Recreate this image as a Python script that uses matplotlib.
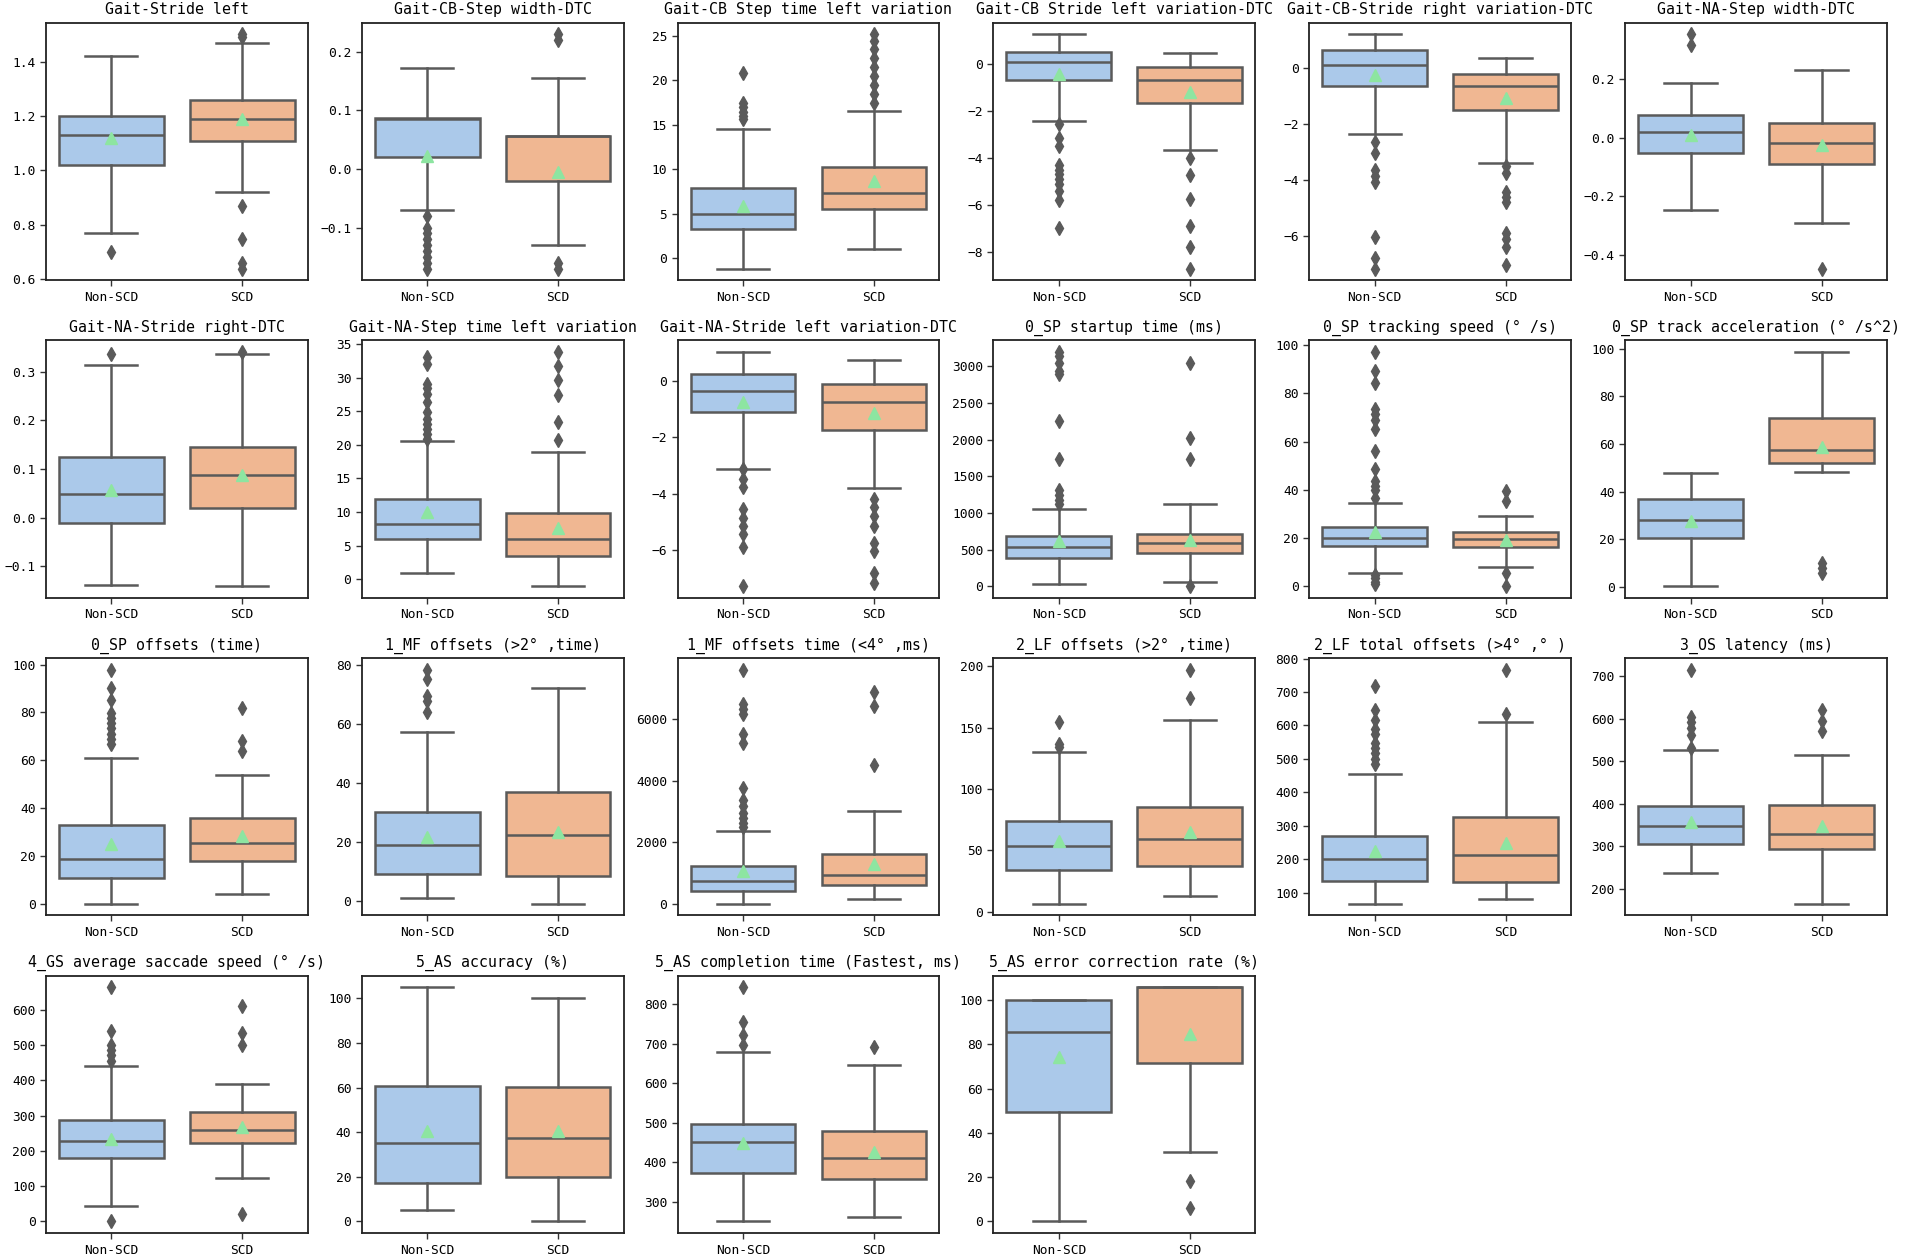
import matplotlib
matplotlib.use("Agg")
import matplotlib.pyplot as plt
from matplotlib.ticker import MaxNLocator

FONT = ["DejaVu Sans Mono"]
plt.rcParams["font.family"] = FONT

titles = [
    "Gait-Stride left", "Gait-CB-Step width-DTC", "Gait-CB Step time left variation",
    "Gait-CB Stride left variation-DTC", "Gait-CB-Stride right variation-DTC", "Gait-NA-Step width-DTC",
    "Gait-NA-Stride right-DTC", "Gait-NA-Step time left variation", "Gait-NA-Stride left variation-DTC",
    "0_SP startup time (ms)", "0_SP tracking speed (° /s)", "0_SP track acceleration (° /s^2)",
    "0_SP offsets (time)", "1_MF offsets (>2° ,time)", "1_MF offsets time (<4° ,ms)",
    "2_LF offsets (>2° ,time)", "2_LF total offsets (>4° ,° )", "3_OS latency (ms)",
    "4_GS average saccade speed (° /s)", "5_AS accuracy (%)", "5_AS completion time (Fastest, ms)",
    "5_AS error correction rate (%)",
]
groups = ["Non-SCD", "SCD"]

# ---- Non-SCD box statistics ----
non_whislo = [0.77, -0.07, -1.2, -2.43, -2.34, -0.246, -0.138, 1.0, -3.11, 23, 5.3, 0.4,
              0.1, 1.1, 11, 6.3, 67, 237, 44, 5, 250, 0]
non_q1 = [1.02, 0.02, 3.2, -0.71, -0.65, -0.053, -0.010, 6.05, -1.12, 386, 16.8, 20.6,
          11.0, 9.2, 425, 34.1, 136, 306, 179, 17.4, 372, 49.5]
non_med = [1.13, 0.086, 5.0, 0.07, 0.10, 0.018, 0.048, 8.3, -0.36, 532, 20.0, 28.1,
           19.0, 19.0, 740, 53.3, 201, 348, 229, 35.2, 450, 85.6]
non_q3 = [1.20, 0.087, 7.9, 0.47, 0.64, 0.078, 0.125, 11.9, 0.24, 682, 24.6, 37.1,
          32.9, 30.1, 1241, 74.1, 271, 395, 287, 60.8, 497, 100]
non_whishi = [1.42, 0.173, 14.5, 1.24, 1.20, 0.185, 0.315, 20.5, 1.02, 1059, 34.6, 47.7,
              60.9, 57.1, 2384, 130, 455, 526, 441, 105, 679, 100]
non_mean = [1.12, 0.022, 5.9, -0.43, -0.24, 0.007, 0.057, 10.05, -0.74, 614, 22.5, 27.6,
            25.0, 21.8, 1067, 57.4, 225, 357, 234, 40.4, 449, 74.2]
non_fliers = [
    [0.70],
    [-0.08, -0.10, -0.11, -0.12, -0.13, -0.14, -0.15, -0.16, -0.17],
    [15.6, 16.0, 16.5, 17.0, 17.5, 20.8],
    [-2.57, -3.14, -3.5, -4.3, -4.5, -4.7, -4.9, -5.1, -5.4, -5.8, -7.0],
    [-2.64, -3.05, -3.65, -3.86, -4.08, -6.02, -6.8, -7.16],
    [0.352, 0.317],
    [0.337],
    [33.0, 32.0, 29.0, 28.4, 27.6, 26.4, 24.9, 23.9, 23.1, 22.4, 21.6, 20.9],
    [-3.11, -3.47, -3.77, -4.54, -4.84, -5.13, -5.43, -5.9, -7.27],
    [3195, 3136, 3045, 2932, 2895, 2250, 1740, 1305, 1250, 1182, 1114],
    [97.2, 89.1, 84.2, 73.7, 71.6, 69.1, 65.4, 56.3, 48.6, 43.7, 41.6, 40.0, 36.7, 4.6, 3.2, 1.8, 0.7],
    [],
    [97.9, 90.2, 85.2, 79.6, 77.5, 75.4, 73.3, 71.2, 69.1, 67.0],
    [78.3, 75.1, 69.4, 67.7, 63.8],
    [7600, 6490, 6325, 6160, 5510, 5237, 3768, 3387, 3170, 2950, 2788, 2624, 2483],
    [154.2, 136.4, 134.2],
    [717, 647, 616, 589, 574, 549, 534, 519, 499, 484],
    [716, 604, 592, 578, 562, 532],
    [664, 540, 500, 486, 471, 454, 0],
    [],
    [843, 754, 723, 697],
    [],
]

# ---- SCD box statistics ----
scd_whislo = [0.92, -0.13, 1.0, -3.69, -3.41, -0.292, -0.141, -1.0, -3.8, 55, 8.1, 48.1,
              4.1, -0.9, 174, 12.3, 80, 164, 124, 0, 260, 31.2]
scd_q1 = [1.11, -0.02, 5.5, -1.67, -1.5, -0.091, 0.019, 3.55, -1.74, 450, 16.2, 52.0,
          18.0, 8.4, 632, 37.3, 133, 294, 221, 19.8, 358, 71.7]
scd_med = [1.19, 0.056, 7.3, -0.69, -0.65, -0.02, 0.087, 6.0, -0.74, 591, 19.7, 57.3,
           25.5, 22.5, 958, 59.2, 213, 328, 258, 37.4, 411, 105.7]
scd_q3 = [1.26, 0.057, 10.2, -0.14, -0.2, 0.051, 0.146, 9.9, -0.12, 718, 22.5, 71.1,
          36.0, 36.9, 1623, 85.2, 325, 396, 309, 60.3, 480, 105.8]
scd_whishi = [1.47, 0.155, 16.6, 0.46, 0.37, 0.23, 0.337, 18.9, 0.75, 1114, 29.2, 98.6,
              54.0, 72.2, 3028, 156.2, 609, 515, 390, 100, 645, 105.8]
scd_mean = [1.19, -0.005, 8.7, -1.19, -1.08, -0.025, 0.088, 7.65, -1.15, 636, 19.0, 58.7,
            28.6, 23.3, 1296, 65.2, 248, 347, 268, 40.4, 426, 84.5]
scd_fliers = [
    [0.87, 0.75, 0.66, 0.64, 1.49, 1.50],
    [0.22, 0.23, -0.16, -0.17],
    [17.5, 18.5, 19.5, 20.5, 21.5, 22.5, 23.5, 24.5, 25.2],
    [-4.0, -4.75, -5.75, -6.9, -7.8, -8.7],
    [-3.5, -3.76, -4.43, -4.6, -4.8, -5.9, -6.1, -6.4, -7.04],
    [-0.447],
    [0.341],
    [33.8, 31.65, 29.65, 27.4, 23.4, 20.65],
    [-4.18, -4.48, -4.8, -5.13, -5.73, -6.03, -6.8, -7.16],
    [3045, 2027, 1736, 0],
    [39.5, 35.3, 5.3, 0.0],
    [10.0, 7.9, 5.8],
    [81.7, 68.1, 63.9],
    [],
    [6870, 6434, 4506],
    [197.3, 174.0],
    [767, 634],
    [620, 596, 571],
    [612, 535, 500, 22],
    [],
    [691],
    [18.4, 6.1],
]

BOX_COLORS = ["#abc9ea", "#f0b792"]
LINE = "#5a5a5a"
MEAN_C = "#8de5a1"

fig, axes = plt.subplots(4, 6, figsize=(19.08, 12.57), dpi=100)
fig.subplots_adjust(left=0.024, right=0.989, top=0.982, bottom=0.019,
                    wspace=0.206, hspace=0.233)

for i, ax in enumerate(axes.flat):
    if i >= len(titles):
        ax.axis("off")
        continue
    stats = [
        dict(label=groups[0], whislo=non_whislo[i], q1=non_q1[i], med=non_med[i],
             q3=non_q3[i], whishi=non_whishi[i], mean=non_mean[i], fliers=non_fliers[i]),
        dict(label=groups[1], whislo=scd_whislo[i], q1=scd_q1[i], med=scd_med[i],
             q3=scd_q3[i], whishi=scd_whishi[i], mean=scd_mean[i], fliers=scd_fliers[i]),
    ]
    bp = ax.bxp(stats, positions=[0, 1], widths=0.8, capwidths=0.4, patch_artist=True,
                showmeans=True,
                boxprops=dict(edgecolor=LINE, linewidth=1.8),
                whiskerprops=dict(color=LINE, linewidth=1.8),
                capprops=dict(color=LINE, linewidth=1.8),
                medianprops=dict(color=LINE, linewidth=1.8),
                meanprops=dict(marker="^", markerfacecolor=MEAN_C, markeredgecolor=MEAN_C,
                               markersize=8.5),
                flierprops=dict(marker="d", markerfacecolor=LINE, markeredgecolor=LINE,
                                markersize=7))
    for patch, c in zip(bp["boxes"], BOX_COLORS):
        patch.set_facecolor(c)
    ax.set_xlim(-0.5, 1.5)
    ax.yaxis.set_major_locator(MaxNLocator(nbins=8, steps=[1, 2, 2.5, 5, 10]))
    ax.set_title(titles[i], fontsize=10.7, pad=6)
    ax.tick_params(axis="both", labelsize=9.3, length=4, width=1.0, color="#333333")
    for sp in ax.spines.values():
        sp.set_linewidth(1.3)
        sp.set_color("#222222")

fig.savefig("out.png", dpi=100)
